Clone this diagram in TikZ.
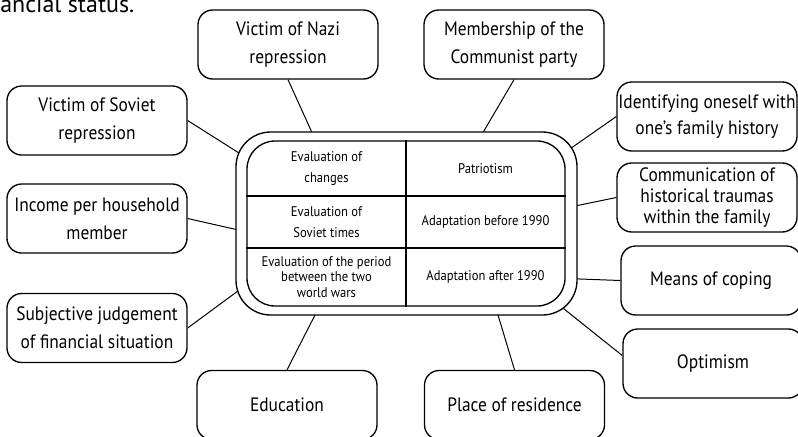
\documentclass[tikz,border=0pt]{standalone}
\usepackage{fontspec}
\setmainfont{PT Sans}[FakeStretch=0.9]
\newfontfamily\bodyfont{PT Sans}
\usetikzlibrary{backgrounds}

\begin{document}
\begin{tikzpicture}[x=0.75pt, y=-0.75pt]
    \tikzstyle{factor} = [draw, line width=1pt, rounded corners=11pt, minimum width=135pt, minimum height=51.75pt, align=center, inner sep=0pt, font=\fontsize{14.5}{21}\selectfont]
    \tikzstyle{cell} = [align=center, inner sep=0pt, font=\fontsize{10.5}{15.5}\selectfont]
    \tikzstyle{link} = [line width=0.75pt, shorten >=-8pt]

    \useasboundingbox (0,0) rectangle (798,436);

    % Nodes
    \node[anchor=base west, inner sep=0pt, font=\bodyfont\fontsize{18}{21}\selectfont] (tail) at (0,12) {ancial status.};

    \node[factor] (nazi) at (288,44.5) {Victim of Nazi\\repression};
    \node[factor] (party) at (514,44.5) {Membership of the\\Communist party};
    \node[factor] (soviet) at (97,120.5) {Victim of Soviet\\repression};
    \node[factor, font=\fontsize{14.5}{19}\selectfont] (family) at (707,116.5) {Identifying oneself with\\one's family history};
    \node[factor, font=\fontsize{14.5}{16}\selectfont] (trauma) at (707,197.5) {Communication of\\historical traumas\\within the family};
    \node[factor] (coping) at (711,280.5) {Means of coping};
    \node[factor] (optimism) at (713,363.5) {Optimism};
    \node[factor] (residence) at (514.5,405) {Place of residence};
    \node[factor] (education) at (287,405) {Education};
    \node[factor] (income) at (97,218.5) {Income per household\\member};
    \node[factor] (judgement) at (97,328) {Subjective judgement\\of financial situation};

    % Core
    \node[draw, fill=white, line width=1pt, rounded corners=26pt, outer sep=0pt, minimum width=255.75pt, minimum height=137.25pt] (core) at (406.5,223.5) {};
    \node[draw, line width=1pt, rounded corners=21pt, minimum width=238.5pt, minimum height=123.75pt] (tab) at (406,223.5) {};
    \draw[line width=0.9pt] (tab.north) -- (tab.south);
    \draw[line width=0.9pt] (tab.west |- 0,196) -- (tab.east |- 0,196);
    \draw[line width=0.9pt] (tab.west |- 0,248) -- (tab.east |- 0,248);

    \node[cell] (changes) at (326.5,168.5) {Evaluation of\\changes};
    \node[cell] (patriotism) at (485.5,168.5) {Patriotism};
    \node[cell] (sovtimes) at (326.5,222) {Evaluation of\\Soviet times};
    \node[cell] (before) at (485.5,222) {Adaptation before 1990};
    \node[cell, font=\fontsize{10.5}{11.5}\selectfont] (interwar) at (326.5,277) {Evaluation of the period\\between the two\\world wars};
    \node[cell] (after) at (485.5,277) {Adaptation after 1990};

    % Edges
    \begin{scope}[on background layer]
        \path (nazi.south) edge[link] (core.136);
        \path (party.south) edge[link] (core.50);
        \path (soviet.east) edge[link] (core.157);
        \path (family.west) edge[link] (core.25);
        \path (trauma.west) edge[link] (core.6);
        \path (coping.west) edge[link] (core.342);
        \path (optimism.175) edge[link] (core.331);
        \path (residence.north) edge[link] (core.315);
        \path (education.north) edge[link] (core.225);
        \path (judgement.east) edge[link] (core.202);
        \path (income.east) edge[link] (core.182);
    \end{scope}

\end{tikzpicture}
\end{document}
